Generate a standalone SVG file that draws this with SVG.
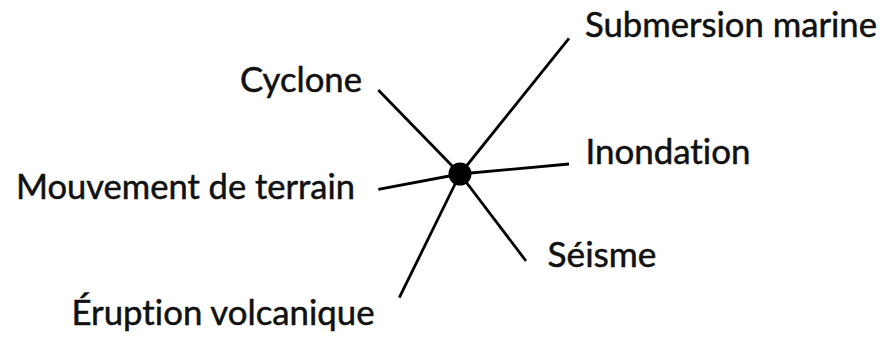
<svg xmlns="http://www.w3.org/2000/svg" width="889" height="340" viewBox="0 0 889 340">
<style>
.lbl{font-family:Lato,"Open Sans","Liberation Sans",sans-serif;font-size:34px;fill:#111;stroke:#111;stroke-width:0.5;font-variant-ligatures:none;font-feature-settings:"liga" 0,"clig" 0,"dlig" 0}
.ln{stroke:#000;stroke-width:2.8;fill:none;stroke-linecap:butt}
</style>
<rect width="889" height="340" fill="#fff"/>
<g id="connectors">
<line class="ln" x1="460" y1="174" x2="378.3" y2="90"/>
<line class="ln" x1="460" y1="174" x2="569" y2="38.3"/>
<line class="ln" x1="460" y1="174" x2="569" y2="164"/>
<line class="ln" x1="460" y1="174" x2="378.3" y2="189.3"/>
<line class="ln" x1="460" y1="174" x2="526" y2="261"/>
<line class="ln" x1="460" y1="174" x2="399.3" y2="297.7"/>
</g>
<g id="center"><circle cx="460" cy="174" r="11.5" fill="#000"/></g>
<g id="submersion"><text class="lbl" x="585" y="37.3" textLength="292" lengthAdjust="spacingAndGlyphs">Submersion marine</text></g>
<g id="cyclone"><text class="lbl" x="240" y="91.7" textLength="122" lengthAdjust="spacingAndGlyphs">Cyclone</text></g>
<g id="inondation"><text class="lbl" x="585.5" y="164" textLength="165" lengthAdjust="spacingAndGlyphs">Inondation</text></g>
<g id="mouvement"><text class="lbl" x="16" y="199.3" textLength="339" lengthAdjust="spacingAndGlyphs">Mouvement de terrain</text></g>
<g id="seisme"><text class="lbl" x="547.5" y="267.3" textLength="109" lengthAdjust="spacingAndGlyphs">Séisme</text></g>
<g id="eruption"><text class="lbl" x="71.5" y="325" textLength="303" lengthAdjust="spacingAndGlyphs">Éruption volcanique</text></g>
</svg>
